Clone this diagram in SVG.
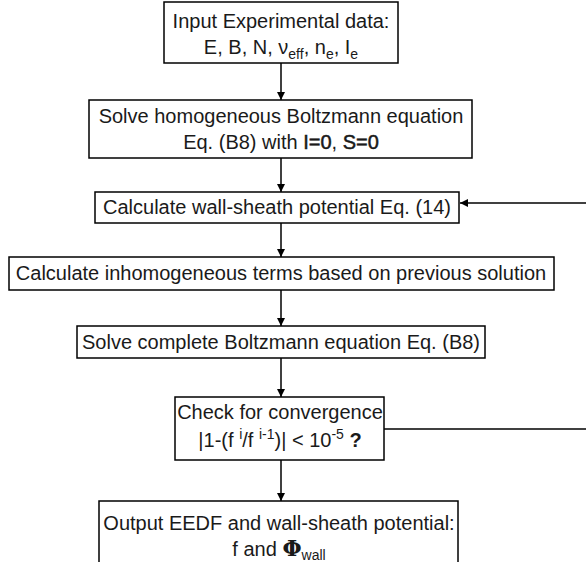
<svg xmlns="http://www.w3.org/2000/svg" width="586" height="562" viewBox="0 0 586 562">
<defs>
<style>
.box{fill:#fff;stroke:#000;stroke-width:1.5}
.t{font-family:"Liberation Sans",Arial,sans-serif;font-size:20px;fill:#1a1a1a;text-anchor:middle}
.s{font-size:14px}
.sb{stroke:#1a1a1a;stroke-width:0.5}
.ln{stroke:#000;stroke-width:1.5;fill:none}
</style>
<marker id="ah" viewBox="0 0 10 10" refX="10" refY="5" markerWidth="8" markerHeight="8" markerUnits="userSpaceOnUse" orient="auto">
<path d="M0,0 L10,5 L0,10 z" fill="#000"/>
</marker>
</defs>
<rect width="586" height="562" fill="#fff"/>
<g id="connectors">
<line class="ln" x1="281" y1="63" x2="281" y2="100" marker-end="url(#ah)"/>
<line class="ln" x1="281" y1="158" x2="281" y2="192" marker-end="url(#ah)"/>
<line class="ln" x1="281" y1="223" x2="281" y2="257" marker-end="url(#ah)"/>
<line class="ln" x1="281" y1="290" x2="281" y2="326" marker-end="url(#ah)"/>
<line class="ln" x1="281" y1="358" x2="281" y2="397" marker-end="url(#ah)"/>
<line class="ln" x1="281" y1="460" x2="281" y2="501" marker-end="url(#ah)"/>
<line class="ln" x1="586" y1="203" x2="460" y2="203" marker-end="url(#ah)"/>
<line class="ln" x1="384" y1="429" x2="586" y2="429"/>
</g>
<g id="input">
<rect class="box" x="164" y="2" width="234" height="61"/>
<text class="t" x="281" y="28">Input Experimental data:</text>
<text class="t" x="281" y="54">E, B, N, ν<tspan class="s" dy="5">eff</tspan><tspan dy="-5">, n</tspan><tspan class="s" dy="5">e</tspan><tspan dy="-5">, I</tspan><tspan class="s" dy="5">e</tspan></text>
</g>
<g id="solve-homogeneous">
<rect class="box" x="89" y="100" width="383" height="58"/>
<text class="t" x="281" y="123">Solve homogeneous Boltzmann equation</text>
<text class="t" x="281" y="149">Eq. (B8) with <tspan class="sb">I=0</tspan>, <tspan class="sb">S=0</tspan></text>
</g>
<g id="wall-sheath">
<rect class="box" x="95" y="192" width="364" height="31"/>
<text class="t" x="277" y="214">Calculate wall-sheath potential Eq. (14)</text>
</g>
<g id="inhomogeneous">
<rect class="box" x="9" y="257" width="545" height="33"/>
<text class="t" x="281" y="280">Calculate inhomogeneous terms based on previous solution</text>
</g>
<g id="solve-complete">
<rect class="box" x="77" y="326" width="408" height="32"/>
<text class="t" x="281" y="349">Solve complete Boltzmann equation Eq. (B8)</text>
</g>
<g id="convergence">
<rect class="box" x="175" y="397" width="209" height="63"/>
<text class="t" x="280" y="419">Check for convergence</text>
<text class="t" x="280" y="447">|1-(f <tspan class="s" dy="-8">i</tspan><tspan dy="8">/f </tspan><tspan class="s" dy="-8">i-1</tspan><tspan dy="8">)| &lt; 10</tspan><tspan class="s" dy="-8">-5</tspan><tspan dy="8" font-weight="bold"> ?</tspan></text>
</g>
<g id="output">
<rect class="box" x="99" y="501" width="359" height="70"/>
<text class="t" x="279" y="530">Output EEDF and wall-sheath potential:</text>
<text class="t" x="279" y="556">f and <tspan font-family="'DejaVu Serif',serif" font-weight="bold" font-size="22">Φ</tspan><tspan class="s" dy="4">wall</tspan></text>
</g>
</svg>
